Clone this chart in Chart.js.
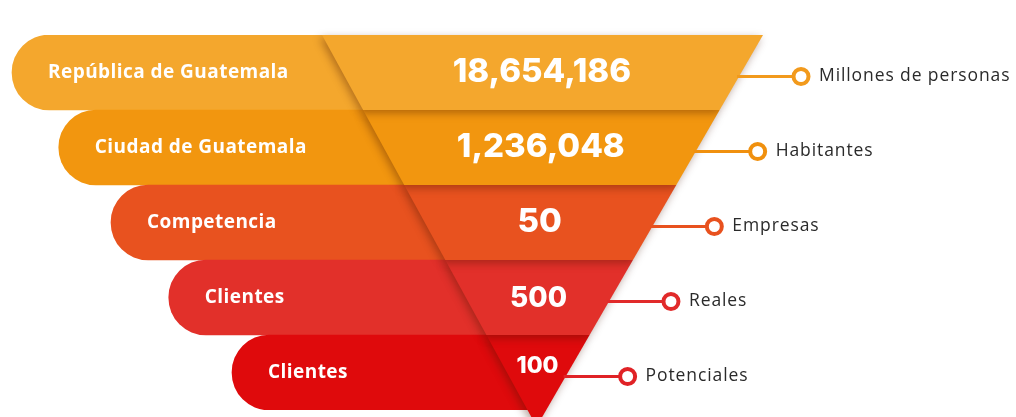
<!DOCTYPE html>
<html><head><meta charset="utf-8">
<script src="https://cdn.jsdelivr.net/npm/chart.js@4.4.0/dist/chart.umd.min.js"></script>
<style>html,body{margin:0;padding:0;background:#fff;overflow:hidden}#wrap{width:1016px;height:417px;position:relative}</style>
</head><body><div id="wrap"><canvas id="c"></canvas></div>
<script>
// ---- data ----
const categories = ['República de Guatemala', 'Ciudad de Guatemala', 'Competencia', 'Clientes', 'Clientes'];
const values = [18654186, 1236048, 50, 500, 100];
const units = ['Millones de personas', 'Habitantes', 'Empresas', 'Reales', 'Potenciales'];

// ---- style / layout ----
const FILL = ['#F4A72D', '#F2960F', '#E8521F', '#E2302A', '#DF0A0C'];
const LINE = ['#F29A1C', '#F0900E', '#E8511E', '#E12A2A', '#E02226'];
const VALUE_FONT = [33, 33, 33, 28, 23];
const VALUE_DY = [0, 0, 0, 1, -6];
const FUNNEL = { topLeft: 322, topRight: 763, slopeL: 0.548, slopeR: -0.578, barEnd: 535 };
const pillStart = i => 12 + 44 * i + 2.75 * i * i;
const FONT = 'Inter, "Noto Sans", sans-serif';
const LABEL_FONT = '"Open Sans", Inter, sans-serif';

const funnelPlugin = {
  id: 'funnel',
  afterDatasetsDraw(chart) {
    const { ctx, scales: { x, y }, chartArea } = chart;
    const n = categories.length;
    const rowH = y.getPixelForValue(1) - y.getPixelForValue(0);
    const top = chartArea.top;
    const x0L = x.getPixelForValue(FUNNEL.topLeft), x0R = x.getPixelForValue(FUNNEL.topRight);
    const L = yy => x0L + FUNNEL.slopeL * (yy - top);
    const R = yy => x0R + FUNNEL.slopeR * (yy - top);
    const apexY = top + (x0R - x0L) / (FUNNEL.slopeL - FUNNEL.slopeR);

    // pill labels
    ctx.save();
    ctx.fillStyle = '#ffffff';
    ctx.font = 'bold 19px ' + LABEL_FONT;
    if ('letterSpacing' in ctx) ctx.letterSpacing = '0.45px';
    ctx.textAlign = 'left';
    ctx.textBaseline = 'middle';
    categories.forEach((c, i) => {
      ctx.fillText(c, x.getPixelForValue(pillStart(i)) + 36, y.getPixelForValue(i));
    });
    ctx.restore();

    // funnel segments, bottom to top so each shadow falls on the one below
    for (let i = n - 1; i >= 0; i--) {
      const y0 = y.getPixelForValue(i) - rowH / 2;
      const y1 = i === n - 1 ? apexY : y0 + rowH;
      ctx.save();
      ctx.shadowColor = 'rgba(70,20,0,0.38)';
      ctx.shadowBlur = 8;
      ctx.shadowOffsetX = -2;
      ctx.shadowOffsetY = 3;
      ctx.beginPath();
      ctx.moveTo(L(y0), y0);
      ctx.lineTo(R(y0), y0);
      ctx.lineTo(R(y1), y1);
      ctx.lineTo(L(y1), y1);
      ctx.closePath();
      ctx.fillStyle = FILL[i];
      ctx.fill();
      ctx.restore();
    }

    // values
    ctx.save();
    ctx.fillStyle = '#ffffff';
    ctx.textAlign = 'center';
    ctx.textBaseline = 'middle';
    values.forEach((v, i) => {
      const cy = y.getPixelForValue(i) + VALUE_DY[i];
      ctx.font = '800 ' + VALUE_FONT[i] + 'px ' + FONT;
      ctx.fillText(v.toLocaleString('en-US'), (L(cy) + R(cy)) / 2, cy);
    });
    ctx.restore();

    // connectors
    ctx.save();
    if ('letterSpacing' in ctx) ctx.letterSpacing = '0.9px';
    units.forEach((u, i) => {
      const cy = y.getPixelForValue(i) + 4;
      const ex = R(cy);
      const cx = ex + 62;
      const r = 7.5;
      ctx.strokeStyle = LINE[i];
      ctx.lineWidth = 3;
      ctx.beginPath();
      ctx.moveTo(ex - 2, cy);
      ctx.lineTo(cx - r, cy);
      ctx.stroke();
      ctx.beginPath();
      ctx.arc(cx, cy, r, 0, Math.PI * 2);
      ctx.fillStyle = '#ffffff';
      ctx.fill();
      ctx.lineWidth = 4;
      ctx.stroke();
      ctx.fillStyle = '#2a2a2a';
      ctx.font = '17.5px ' + LABEL_FONT;
      ctx.textAlign = 'left';
      ctx.textBaseline = 'middle';
      ctx.fillText(u, cx + 18, cy);
    });
    ctx.restore();
  }
};

new Chart(document.getElementById('c'), {
  type: 'bar',
  data: {
    labels: categories,
    datasets: [{
      data: categories.map((_, i) => [pillStart(i), FUNNEL.barEnd]),
      backgroundColor: FILL,
      borderWidth: 0,
      borderSkipped: false,
      borderRadius: { topLeft: 40, bottomLeft: 40, topRight: 0, bottomRight: 0 },
      barPercentage: 1,
      categoryPercentage: 1
    }]
  },
  options: {
    indexAxis: 'y',
    responsive: true,
    maintainAspectRatio: false,
    animation: false,
    layout: { padding: { top: 35, bottom: 7, left: 0, right: 0 } },
    plugins: { legend: { display: false }, tooltip: { enabled: false } },
    scales: {
      x: { type: 'linear', min: 0, max: 1016, display: false },
      y: { type: 'category', display: false, grid: { display: false } }
    }
  },
  plugins: [funnelPlugin]
});
</script>
</body></html>
